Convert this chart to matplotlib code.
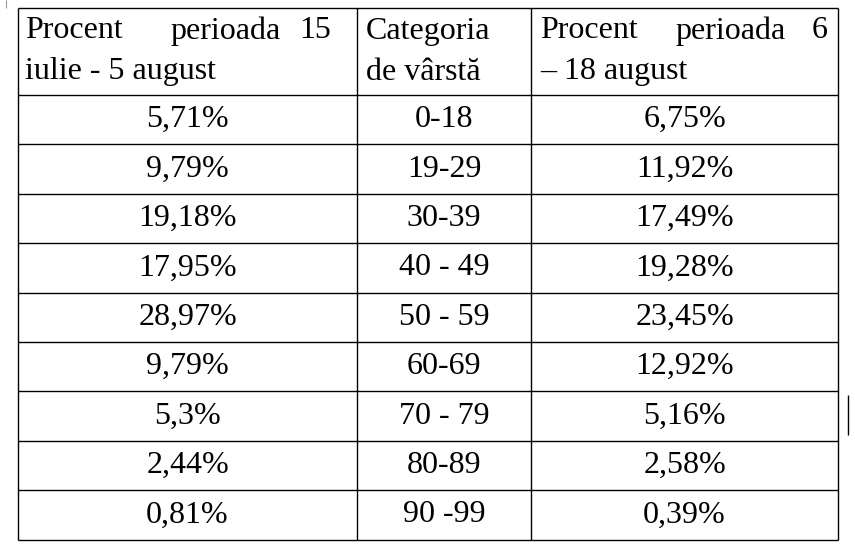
import matplotlib.pyplot as plt

# table data
ages = ["0-18", "19-29", "30-39", "40 - 49", "50 - 59", "60-69", "70 - 79", "80-89", "90 -99"]
pct_first = ["5,71%", "9,79%", "19,18%", "17,95%", "28,97%", "9,79%", "5,3%", "2,44%", "0,81%"]
pct_second = ["6,75%", "11,92%", "17,49%", "19,28%", "23,45%", "12,92%", "5,16%", "2,58%", "0,39%"]

plt.rcParams["font.family"] = "Liberation Serif"
fig = plt.figure(figsize=(8.55, 5.5), dpi=100)
ax = fig.add_axes([0, 0, 1, 1])
ax.set_xlim(0, 855)
ax.set_ylim(550, 0)
ax.axis("off")

col_x = [18, 357, 531, 838]
top, head_bottom, row_h = 8, 95, 49.4
rows_y = [head_bottom + i * row_h for i in range(len(ages) + 1)]

ax.hlines([top] + rows_y, col_x[0], col_x[-1], color="black", lw=1)
ax.vlines(col_x, top, rows_y[-1], color="black", lw=1)
# small stray marks seen in the scan
ax.vlines(848, 395, 435, color="black", lw=1)
ax.vlines(6, 0, 8, color="#999999", lw=0.8)

fs = 23
# header, justified by hand
l1, l2 = 31, 72
ax.text(25, l1, "Procent", fontsize=fs, va="center", ha="left")
ax.text(226, l1, "perioada", fontsize=fs, va="center", ha="center")
ax.text(331, l1, "15", fontsize=fs, va="center", ha="right")
ax.text(25, l2, "iulie - 5 august", fontsize=fs, va="center", ha="left")
ax.text(366, l1, "Categoria", fontsize=fs, va="center", ha="left")
ax.text(366, l2, "de vârstă", fontsize=fs, va="center", ha="left")
ax.text(540, l1, "Procent", fontsize=fs, va="center", ha="left")
ax.text(731, l1, "perioada", fontsize=fs, va="center", ha="center")
ax.text(828, l1, "6", fontsize=fs, va="center", ha="right")
ax.text(540, l2, "– 18 august", fontsize=fs, va="center", ha="left")

centers = [(col_x[i] + col_x[i + 1]) / 2 for i in range(3)]
for i, (a, p1, p2) in enumerate(zip(ages, pct_first, pct_second)):
    y = (rows_y[i] + rows_y[i + 1]) / 2
    ax.text(centers[0], y, p1, fontsize=fs, ha="center", va="center")
    ax.text(centers[1], y, a, fontsize=fs, ha="center", va="center")
    ax.text(centers[2], y, p2, fontsize=fs, ha="center", va="center")

fig.savefig("out.png", dpi=100)
